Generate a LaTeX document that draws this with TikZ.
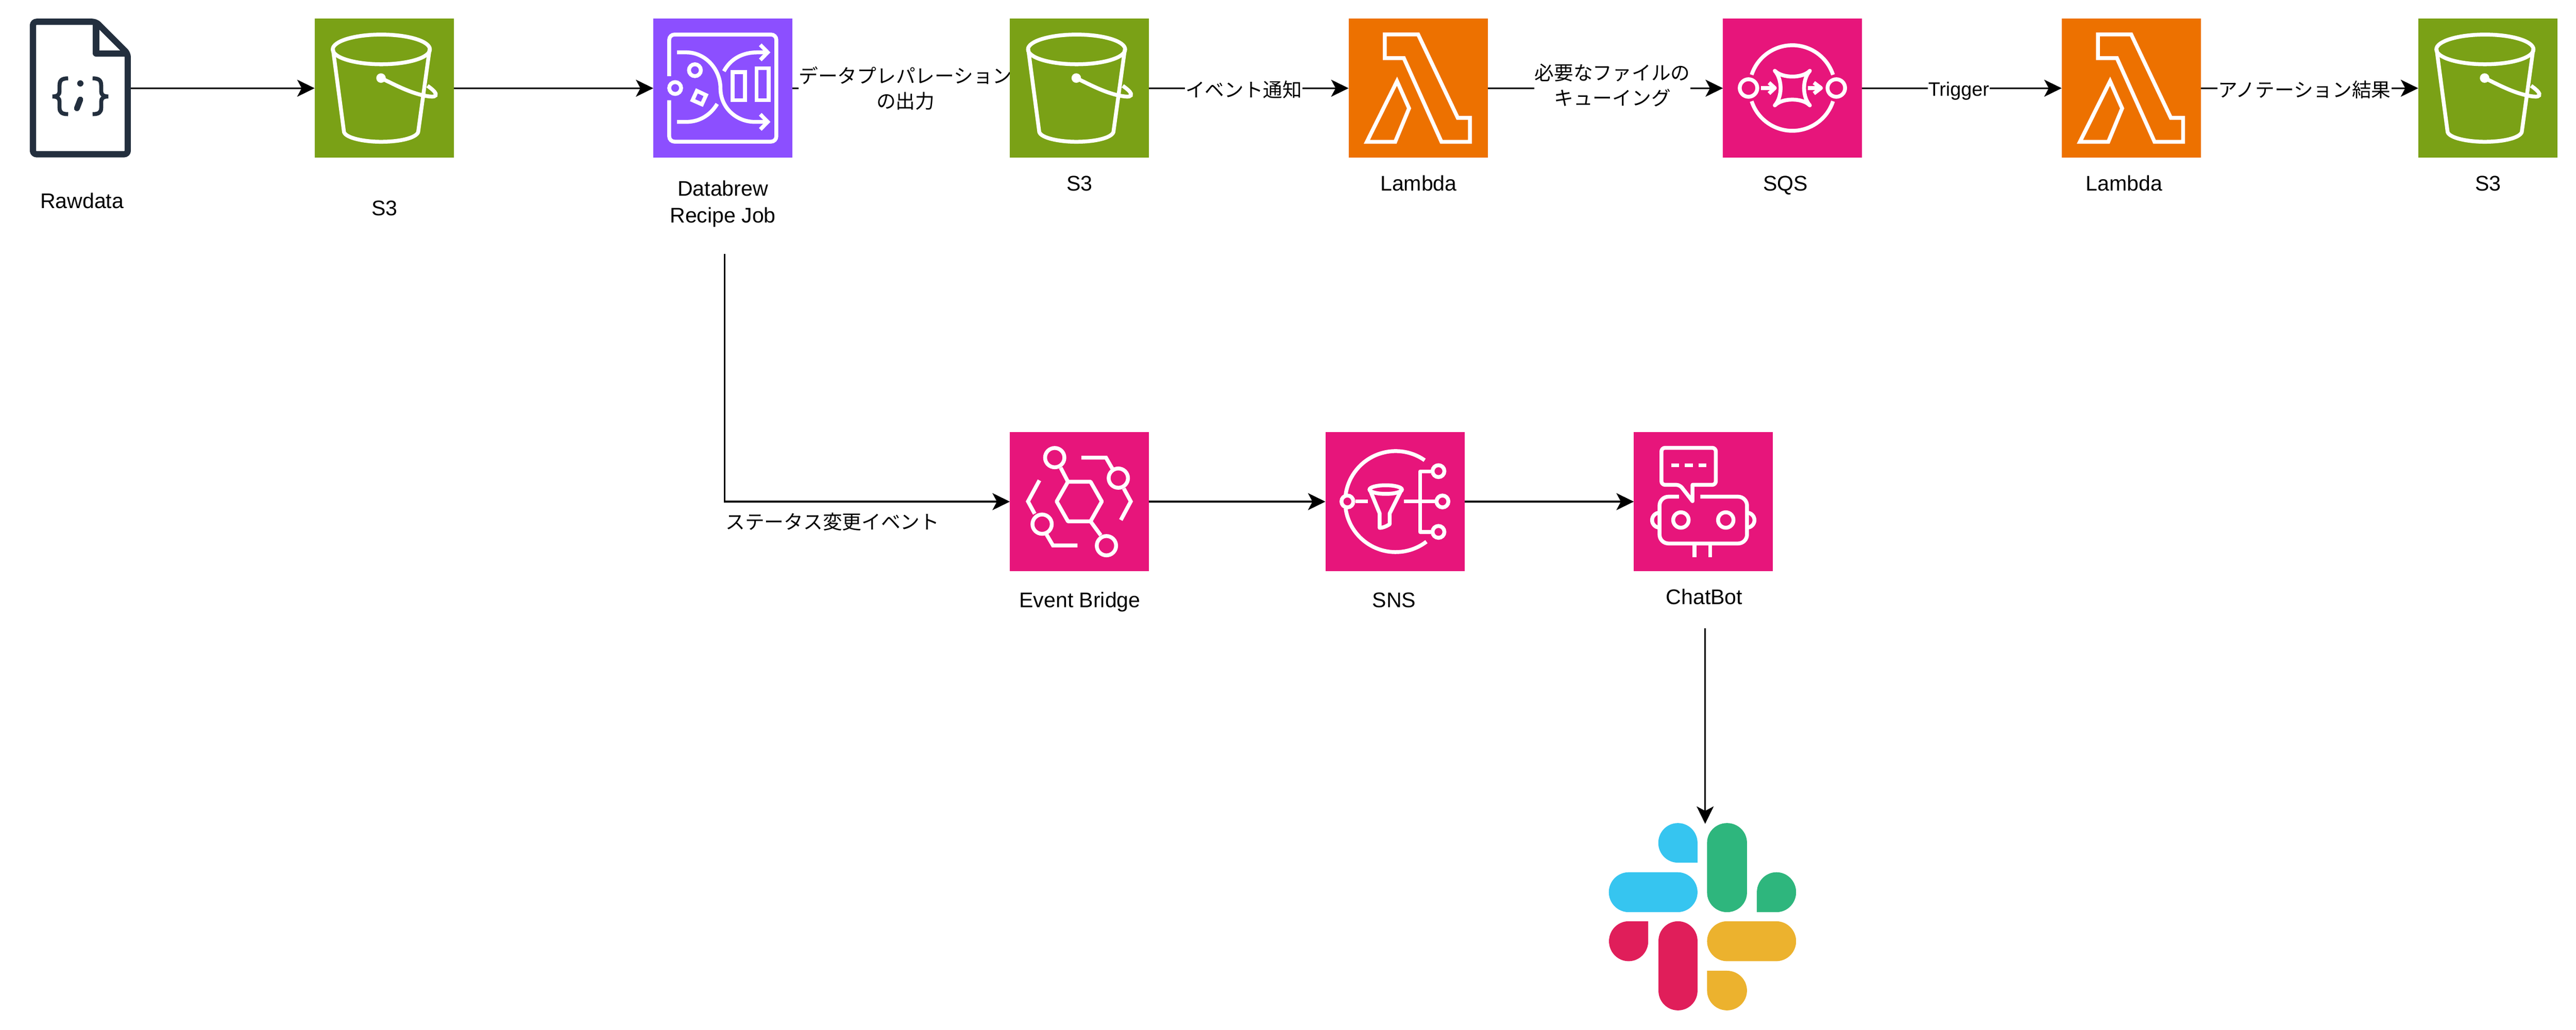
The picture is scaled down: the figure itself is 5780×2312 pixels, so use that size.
\documentclass[tikz,border=0pt]{standalone}
\usepackage{fontspec}
\setmainfont{Liberation Sans}
\newfontfamily\jp{Noto Sans CJK JP}
\usetikzlibrary{arrows.meta,backgrounds}

\definecolor{s3green}{HTML}{7AA116}
\definecolor{brewpurple}{HTML}{8C4FFF}
\definecolor{apppink}{HTML}{E7157B}
\definecolor{lambdaorange}{HTML}{ED7100}
\definecolor{docnavy}{HTML}{232F3E}
\definecolor{slackblue}{HTML}{36C5F0}
\definecolor{slackgreen}{HTML}{2EB67D}
\definecolor{slackred}{HTML}{E01E5A}
\definecolor{slackyellow}{HTML}{ECB22E}

\tikzset{
	iconbox/.style={inner sep=0pt, outer sep=0pt, minimum size=3.12cm},
	glyph/.style={draw=white, line width=.0867cm},
	nodelabel/.style={font=\fontsize{13.5}{17}\selectfont, align=center, inner sep=0pt, anchor=base},
	edgelabel/.style={font=\fontsize{12.4}{16}\selectfont, align=center, fill=white, inner sep=.3pt},
	flow/.style={draw=black, line width=.04cm, -{Stealth[length=.39cm,width=.38cm,inset=.1cm]}}
}

% Icons are drawn from the top left corner of the box, 936 units wide
\newcommand{\bucketicon}{
	\draw[glyph] (449,207) ellipse[x radius=327, y radius=100];
	\draw[glyph, line join=round] (124,207) -- (198,764) .. controls (212,804) and (332,829) .. (447,829) .. controls (572,829) and (682,804) .. (697,764) -- (774,207);
	\fill[white] (447,400) circle[radius=32];
	\draw[glyph] (447,400) .. controls (540,445) and (650,505) .. (760,522) .. controls (800,528) and (820,525) .. (815,505) .. controls (810,490) and (785,470) .. (760,452);
}
\newcommand{\databrewicon}{
	\draw[glyph, rounded corners=.117cm] (107,387) -- (107,107) -- (828,107) -- (828,828) -- (107,828) -- (107,549);
	\draw[glyph] (147,467) circle[radius=40];
	\draw[glyph] (280,347) circle[radius=40];
	\draw[glyph] (293,486) -- (355,515) -- (327,577) -- (264,549) -- cycle;
	\draw[glyph] (533,360) rectangle (617,549);
	\draw[glyph] (695,334) rectangle (776,549);
	\draw[glyph] (160,227) -- (222,227) .. controls (350,227) and (452,340) .. (452,469) .. controls (452,600) and (560,695) .. (682,695) -- (770,695);
	\draw[glyph] (475,354) .. controls (520,270) and (600,227) .. (700,227) -- (770,227);
	\draw[glyph] (160,695) -- (222,695) .. controls (320,695) and (390,640) .. (430,574);
	\draw[glyph] (720,176) -- (770,227) -- (720,278);
	\draw[glyph] (720,644) -- (770,695) -- (720,746);
}
\newcommand{\lambdaicon}{
	\draw[glyph] (244,106) -- (468,106) -- (735,668) -- (817,668) -- (817,829) -- (625,829) -- (372,266) -- (244,266) -- cycle;
	\draw[glyph] (326,421) -- (407,604) -- (314,829) -- (123,829) -- cycle;
}
\newcommand{\sqsicon}{
	\draw[glyph] (467,467) ++(198:288) arc[start angle=198, end angle=342, radius=288];
	\draw[glyph] (467,467) ++(18:288) arc[start angle=18, end angle=162, radius=288];
	\draw[glyph] (172,467) circle[radius=59];
	\draw[glyph] (763,467) circle[radius=59];
	\draw[glyph] (257,467) -- (345,467);
	\draw[glyph] (572,467) -- (655,467);
	\draw[glyph, line join=round] (310,431) -- (349,467) -- (310,504);
	\draw[glyph, line join=round] (612,431) -- (660,467) -- (612,504);
	\draw[glyph, line join=round] (349,351) .. controls (400,403) and (534,403) .. (585,351) .. controls (533,410) and (533,525) .. (585,584) .. controls (534,532) and (400,532) .. (349,584) .. controls (401,525) and (401,410) .. cycle;
}
\newcommand{\eventicon}{
	\draw[glyph, line join=round] (315,467) -- (391,334) -- (543,334) -- (619,467) -- (543,601) -- (391,601) -- cycle;
	\foreach \cx/\cy in {302/172, 730/310, 217/620, 650/765} {
		\draw[glyph] (\cx,\cy) circle[radius=65];
	}
	\draw[glyph] (391,334) -- (342,240);
	\draw[glyph] (543,601) -- (612,695);
	\draw[glyph] (481,172) -- (647,172) -- (689,245);
	\draw[glyph] (767,380) -- (814,467) -- (747,592);
	\draw[glyph] (199,325) -- (122,467) -- (167,550);
	\draw[glyph] (247,690) -- (290,763) -- (455,763);
}
\newcommand{\snsicon}{
	\draw[glyph] (473,468) ++(-55:340) arc[start angle=-55, end angle=-172, radius=340];
	\draw[glyph] (473,468) ++(172:340) arc[start angle=172, end angle=52.5, radius=340];
	\foreach \cx/\cy in {148/467, 761/263, 788/467, 761/672} {
		\draw[glyph] (\cx,\cy) circle[radius=40];
	}
	\draw[glyph] (201,467) -- (285,467);
	\draw[glyph] (406,387) ellipse[x radius=109, y radius=29];
	\draw[glyph, line join=round] (299,387) -- (365,547) -- (365,645) .. controls (385,645) and (410,635) .. (433,620) -- (433,547) -- (513,387);
	\draw[glyph] (529,467) -- (748,467);
	\draw[glyph, line join=round] (708,265) -- (638,265) -- (638,672) -- (708,672);
}
\newcommand{\boticon}{
	\draw[glyph, line join=round, rounded corners=.08cm] (395,355) -- (552,355) -- (552,106) -- (186,106) -- (186,355) -- (309,355) [sharp corners] -- (395,465) -- cycle;
	\foreach \dx in {251, 344, 435} {
		\draw[glyph] (\dx,224) -- ++(53,0);
	}
	\draw[glyph, rounded corners=.2cm] (304,435) -- (173,435) -- (173,750) -- (762,750) -- (762,435) -- (448,435);
	\draw[glyph] (317,592) circle[radius=52];
	\draw[glyph] (619,592) circle[radius=52];
	\draw[glyph] (173,543) arc[start angle=-90, end angle=-270, radius=50];
	\draw[glyph] (762,543) arc[start angle=-90, end angle=90, radius=50];
	\draw[glyph] (409,750) -- (409,842);
	\draw[glyph] (514,750) -- (514,842);
}
\newcommand{\bracepath}{(258,402) .. controls (215,402) and (200,415) .. (200,450) -- (200,490) .. controls (200,512) and (185,524) .. (152,524) .. controls (185,524) and (200,536) .. (200,558) -- (200,600) .. controls (200,630) and (215,643) .. (258,643)}
\newcommand{\docicon}{
	\draw[docnavy, line width=.14cm, line join=round, rounded corners=.08cm] (21,21) -- (445,21) -- (659,235) -- (659,913) -- (21,913) -- cycle;
	\draw[docnavy, line width=.14cm, line join=round] (446,21) -- (446,234) -- (659,234);
	\draw[docnavy, line width=.09cm] \bracepath;
	\begin{scope}[xshift=6.8cm, xscale=-1]
		\draw[docnavy, line width=.09cm] \bracepath;
	\end{scope}
	\fill[docnavy] (340,436) circle[radius=21];
	\draw[docnavy, line width=.13cm, line cap=round] (340,544) -- (317,604);
}
\newcommand{\slackicon}{
	\fill[slackblue] (807,520) -- (692,520) arc[start angle=90, end angle=360, x radius=115, y radius=124] -- cycle;
	\fill[slackblue] (404,580) -- (690,580) arc[start angle=270, end angle=450, x radius=117, y radius=125] -- (404,830) arc[start angle=90, end angle=270, x radius=117, y radius=125] -- cycle;
	\fill[slackgreen] (863,395) arc[start angle=180, end angle=360, x radius=117, y radius=123] -- (1097,707) arc[start angle=0, end angle=180, x radius=117, y radius=123] -- cycle;
	\fill[slackgreen] (1155,830) -- (1155,705) arc[start angle=180, end angle=450, x radius=115, y radius=125] -- cycle;
	\fill[slackred] (518,887) -- (403,887) arc[start angle=270, end angle=0, x radius=115, y radius=125] -- cycle;
	\fill[slackred] (578,1010) arc[start angle=180, end angle=360, x radius=114.5, y radius=123] -- (807,1322) arc[start angle=0, end angle=180, x radius=114.5, y radius=123] -- cycle;
	\fill[slackyellow] (980,887) -- (1268,887) arc[start angle=270, end angle=450, x radius=117, y radius=125] -- (980,1137) arc[start angle=90, end angle=270, x radius=117, y radius=125] -- cycle;
	\fill[slackyellow] (863,1197) -- (980,1197) arc[start angle=270, end angle=540, x radius=117, y radius=124] -- cycle;
}

\begin{document}
\begin{tikzpicture}[x=.01cm, y=-.01cm]
	\useasboundingbox (0,0) rectangle (5780,2312);

	% Boxes with their icons and captions
	\foreach \name/\xc/\yc/\col/\lx/\ly/\txt/\icon in {
		bucketA/862/198/s3green/863/484/S3/\bucketicon,
		databrew/1622/198/brewpurple/1622/500/{Databrew\\Recipe Job}/\databrewicon,
		bucketB/2422/198/s3green/2422/428/S3/\bucketicon,
		lambdaA/3182/198/lambdaorange/3183/428/Lambda/\lambdaicon,
		sqs/4022/198/apppink/4006/428/SQS/\sqsicon,
		lambdaB/4782/198/lambdaorange/4766/428/Lambda/\lambdaicon,
		bucketC/5582/198/s3green/5583/428/S3/\bucketicon,
		eventbridge/2422/1126/apppink/2423/1363/Event Bridge/\eventicon,
		sns/3130/1126/apppink/3128/1364/SNS/\snsicon,
		chatbot/3822/1126/apppink/3824/1356/ChatBot/\boticon} {
		\node[iconbox, fill=\col] (\name) at (\xc,\yc) {};
		\node[nodelabel] (\name-label) at (\lx,\ly) {\txt};
		\begin{scope}[shift={(\name.north west)}, scale=1/3]
			\icon
		\end{scope}
	}

	\node[iconbox, minimum width=2.26cm] (rawdata) at (180,198) {};
	\node[nodelabel] (rawdata-label) at (184,468) {Rawdata};
	\begin{scope}[shift={(rawdata.north west)}, scale=1/3]
		\docicon
	\end{scope}

	\node[inner sep=0pt, minimum width=4.2cm, minimum height=4.18cm] (slack) at (3826,2059) {};
	\begin{scope}[shift={(3500,1750)}, xscale=1/2.613, yscale=1/2.79]
		\slackicon
	\end{scope}

	\coordinate (databrewout) at (1626,570);
	\coordinate (chatbotout) at (3826,1410);

	% Arrows go under the boxes
	\begin{scope}[on background layer]
		% Plain arrows
		\foreach \from/\to in {rawdata/bucketA, bucketA/databrew, eventbridge/sns, sns/chatbot} {
			\draw[flow] (\from.east) -- (\to.west);
		}

		% Arrows that carry a text
		\foreach \from/\to/\where/\lift/\edgetxt in {
			databrew/bucketB/.52/0/{\jp データプレパレーション\\\jp の出力},
			bucketB/lambdaA/.475/-.03/{\jp イベント通知},
			lambdaA/sqs/.53/.07/{\jp 必要なファイルの\\\jp キューイング},
			sqs/lambdaB/.484/-.06/Trigger,
			lambdaB/bucketC/.477/-.03/{\jp アノテーション結果}} {
			\draw[flow] (\from.east) -- (\to.west) node[pos=\where, edgelabel, yshift=\lift cm] (\from-text) {\edgetxt};
		}

		\draw[flow] (databrewout) |- (eventbridge.west);
		\draw[flow] (chatbotout) -- (slack.north);
	\end{scope}

	\node[edgelabel, fill=none] (statuslabel) at (1868,1171) {\jp ステータス変更イベント};
\end{tikzpicture}
\end{document}
